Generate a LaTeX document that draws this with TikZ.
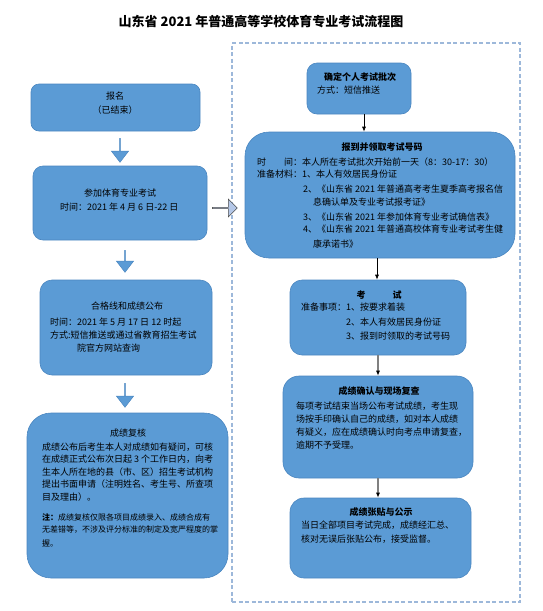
\documentclass[tikz,border=0pt]{standalone}
\usepackage{fontspec}
\setmainfont{Noto Sans CJK SC}
\usetikzlibrary{shapes.arrows,calc,arrows.meta}
\definecolor{boxblue}{HTML}{5B9BD5}
\definecolor{boxline}{HTML}{4A86C0}
\definecolor{lightarrow}{HTML}{B4C7E7}
\definecolor{dashblue}{HTML}{9DB8DA}
\definecolor{graylink}{HTML}{808080}
\begin{document}
\begin{tikzpicture}[x=1pt,y=-1pt,
  box/.style={draw=boxline, line width=0.6pt, fill=boxblue, inner sep=0pt},
  txt/.style={inner sep=0pt, font=\fontsize{9}{11}\selectfont, anchor=west, text=black},
  small/.style={inner sep=0pt, font=\fontsize{8}{10}\selectfont, anchor=west, text=black},
  head/.style={inner sep=0pt, font=\fontsize{9}{11}\selectfont\bfseries, text=black},
  downarrow/.style={single arrow, draw=boxline, fill=boxblue, line width=0.5pt, rotate=-90,
     minimum width=17pt, single arrow head extend=4.5pt, single arrow tip angle=75, inner sep=0pt},
  thinlink/.style={-{Latex[length=5pt,width=4pt]}, line width=0.7pt, black},
  graylinkst/.style={draw=graylink, line width=1.3pt, -{Latex[length=5pt,width=4pt,fill=black,color=black]}}
]
\useasboundingbox (0,0) rectangle (543,611);

% title
\node[inner sep=0pt, font=\fontsize{13}{15}\selectfont\bfseries] (title) at (261,22) {山东省 2021 年普通高等学校体育专业考试流程图};

% dashed frame
\node[draw=dashblue, line width=1.6pt, dash pattern=on 4pt off 2.5pt, minimum width=288pt, minimum height=559pt, inner sep=0pt] (frame) at (376,322.5) {};

% ---------- left column ----------
\node[box, rounded corners=8pt, minimum width=169pt, minimum height=47pt] (A) at (115.5,107.5) {};
\node[head, font=\fontsize{9}{11}\selectfont] (a1) at (115,96) {报名};
\node[inner sep=0pt, font=\fontsize{9}{11}\selectfont] (a2) at (115,110) {（已结束）};

\node[downarrow, minimum height=24pt] (d1) at (120,150) {};

\node[box, rounded corners=10pt, minimum width=174pt, minimum height=74pt] (B) at (120,203) {};
\node[inner sep=0pt, font=\fontsize{9}{11}\selectfont] (b1) at (120,193) {参加体育专业考试};
\node[txt] (b2) at (60,207) {时间：2021 年 4 月 6 日-22 日};

\node[single arrow, draw=black!70, fill=lightarrow, line width=0.6pt, minimum width=18pt, minimum height=25pt,
  single arrow head extend=4pt, single arrow tip angle=90, inner sep=0pt] (ra) at (224.5,208) {};

\node[downarrow, minimum height=22pt] (d2) at (125,261) {};

\node[box, rounded corners=12pt, minimum width=172pt, minimum height=95pt] (C) at (126,327.5) {};
\node[inner sep=0pt, font=\fontsize{9}{11}\selectfont] (c1) at (127,306) {合格线和成绩公布};
\node[txt] (c2) at (50,322) {时间：2021 年 5 月 17 日 12 时起};
\node[txt] (c3) at (50,335) {方式:短信推送或通过省教育招生考试};
\node[txt] (c4) at (77,348) {院官方网站查询};

\node[downarrow, minimum height=24pt] (d3) at (125,395) {};

\node[box, rounded corners=24pt, minimum width=201pt, minimum height=165pt] (D) at (127.5,495.5) {};
\node[inner sep=0pt, font=\fontsize{9}{11}\selectfont] (e0) at (128,433) {成绩复核};
\node[txt] (e1) at (42,447) {成绩公布后考生本人对成绩如有疑问，可核};
\node[txt] (e2) at (42,459.5) {在成绩正式公布次日起 3 个工作日内，向考};
\node[txt] (e3) at (42,472) {生本人所在地的县（市、区）招生考试机构};
\node[txt] (e4) at (42,484.5) {提出书面申请（注明姓名、考生号、所查项};
\node[txt] (e5) at (42,497) {目及理由）。};
\node[small] (e6) at (42,517) {\textbf{注：}成绩复核仅限各项目成绩录入、成绩合成有};
\node[small] (e7) at (42,530) {无差错等，不涉及评分标准的制定及宽严程度的掌};
\node[small] (e8) at (42,543) {握。};

% ---------- right column ----------
\node[box, rounded corners=10pt, minimum width=104pt, minimum height=51pt] (E) at (359,88.5) {};
\node[head] (E1) at (360,77) {确定个人考试批次};
\node[txt] (E2) at (317,90) {方式：短信推送};

\node[box, rounded corners=24pt, minimum width=270pt, minimum height=126pt] (F) at (380,195) {};
\node[head] (f0) at (382,147) {报到并领取考试号码};
\node[txt] (f1) at (257,162) {时\hspace{2em}间：本人所在考试批次开始前一天（8：30-17：30）};
\node[txt] (f2) at (257,174.5) {准备材料：1、本人有效居民身份证};
\node[txt] (f3) at (303,189.5) {2、《山东省 2021 年普通高考考生夏季高考报名信};
\node[txt] (f4) at (313,202) {息确认单及专业考试报考证》};
\node[txt] (f5) at (303,217) {3、《山东省 2021 年参加体育专业考试确信表》};
\node[txt] (f6) at (303,229.5) {4、《山东省 2021 年普通高校体育专业考试考生健};
\node[txt] (f7) at (313,244) {康承诺书》};

\node[box, rounded corners=12pt, minimum width=176pt, minimum height=75pt] (G) at (378,317.5) {};
\node[head] (g0) at (379,295) {考\hspace{3em}试};
\node[txt] (g1) at (301,307.5) {准备事项：1、按要求着装};
\node[txt] (g2) at (346,322) {2、本人有效居民身份证};
\node[txt] (g3) at (346,336) {3、报到时领取的考试号码};

\node[box, rounded corners=16pt, minimum width=190pt, minimum height=102pt] (H) at (378,427) {};
\node[head] (h0) at (379,391) {成绩确认与现场复查};
\node[txt] (h1) at (296,406) {每项考试结束当场公布考试成绩，考生现};
\node[txt] (h2) at (296,419) {场按手印确认自己的成绩，如对本人成绩};
\node[txt] (h3) at (296,432.5) {有疑义，应在成绩确认时向考点申请复查，};
\node[txt] (h4) at (296,445.5) {逾期不予受理。};

\node[box, rounded corners=14pt, minimum width=181pt, minimum height=80pt] (I) at (380.5,538) {};
\node[head] (i0) at (381,512) {成绩张贴与公示};
\node[txt] (i1) at (301,525.5) {当日全部项目考试完成，成绩经汇总、};
\node[txt] (i2) at (301,539) {核对无误后张贴公布，接受监督。};

% connectors
\draw[thinlink] ([xshift=5pt]E.south) -- ([xshift=5pt]E.south |- F.north);
\draw[thinlink] ([xshift=-3pt]F.south) -- ([xshift=-3pt]F.south |- G.north);
\draw[graylinkst] (G.south) -- (G.south |- H.north);
\draw[graylinkst] (H.south) -- (H.south |- I.north);
\end{tikzpicture}
\end{document}
